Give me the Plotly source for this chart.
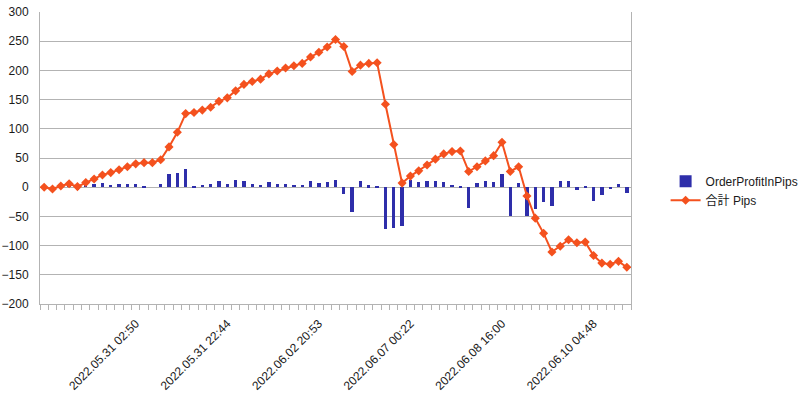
import plotly.graph_objects as go

# Cumulative pips (合計 Pips), one per order
total_pips = [0, -3, 2, 6, 1, 8, 14, 21, 25, 30, 35, 40, 42, 42, 47, 69, 94, 126, 128, 132,
              137, 147, 153, 165, 176, 181, 185, 194, 199, 204, 208, 212, 223, 231, 240, 253,
              241, 198, 209, 212, 213, 142, 73, 7, 19, 28, 38, 48, 57, 61, 62, 27, 35, 45,
              54, 77, 27, 35, -15, -53, -79, -111, -101, -90, -95, -94, -117, -130, -132,
              -127, -137]

# Profit of each order (OrderProfitInPips)
order_pips = [0, -3, 5, 4, -5, 7, 6, 7, 4, 5, 5, 5, 2, 0, 5, 22, 25, 32, 2, 4,
              5, 10, 6, 12, 11, 5, 4, 9, 5, 5, 4, 4, 11, 8, 9, 13,
              -12, -43, 11, 3, 1, -71, -69, -66, 12, 9, 10, 10, 9, 4, 1, -35, 8, 10,
              9, 23, -50, 8, -50, -38, -26, -32, 10, 11, -5, 1, -23, -13, -2,
              5, -10]

# Visible category labels (every 11th order)
label_index = [11, 22, 33, 44, 55, 66]
label_text = ["2022.05.31 02:50", "2022.05.31 22:44", "2022.06.02 20:53",
              "2022.06.07 00:22", "2022.06.08 16:00", "2022.06.10 04:48"]

x_idx = list(range(len(total_pips)))
n = len(total_pips)

FONT = "Liberation Sans, Arial, Noto Sans CJK JP, sans-serif"
GRID = "#b3b3b3"
TEXT = "#1a1a1a"

fig = go.Figure()
fig.add_trace(go.Bar(
    x=x_idx, y=order_pips, width=0.4, name="OrderProfitInPips",
    marker=dict(color="#2e2eaa", line=dict(width=0)),
))
fig.add_trace(go.Scatter(
    x=x_idx, y=total_pips, mode="lines+markers", name="合計 Pips",
    line=dict(color="#f4511e", width=2),
    marker=dict(symbol="diamond", size=7, color="#f4511e"),
))

minor_ticks = dict(tickmode="linear", tick0=0.5, dtick=1, ticks="outside",
                   ticklen=5, tickcolor=GRID, tickwidth=1, showgrid=False)

fig.update_layout(
    width=800, height=397,
    margin=dict(l=40, r=169, t=12, b=93, autoexpand=False),
    paper_bgcolor="white", plot_bgcolor="white",
    font=dict(family=FONT, size=12, color=TEXT),
    bargap=0,
    xaxis=dict(
        range=[-0.5, n - 0.5], tickmode="array", tickvals=label_index, ticktext=label_text,
        tickangle=-45, ticks="", showgrid=False, zeroline=False,
        showline=True, linecolor=GRID, linewidth=1,
        ticklabelstandoff=7, automargin=False,
        minor=minor_ticks,
        tickfont=dict(size=12, color=TEXT),
    ),
    xaxis2=dict(
        range=[-0.5, n - 0.5], overlaying="x", anchor="free", position=0.4,
        showticklabels=False, ticks="", showgrid=False, zeroline=False,
        showline=True, linecolor=GRID, linewidth=1, automargin=False,
        minor=minor_ticks,
    ),
    yaxis=dict(
        range=[-200, 300], tick0=0, dtick=50, showgrid=True, gridcolor=GRID,
        zeroline=False, showline=True, mirror=True, linecolor=GRID, ticks="",
        ticklabelstandoff=8, automargin=False, tickfont=dict(size=12, color=TEXT),
    ),
    legend=dict(x=0.832, y=0.58, xref="container", yref="container",
                xanchor="left", yanchor="top",
                font=dict(size=12, color=TEXT), bgcolor="rgba(0,0,0,0)",
                tracegroupgap=2),
    showlegend=True,
)

fig.write_html("out.html",
               config={"displayModeBar": False},
               post_script="document.body.style.margin='0';document.body.style.padding='0';")
